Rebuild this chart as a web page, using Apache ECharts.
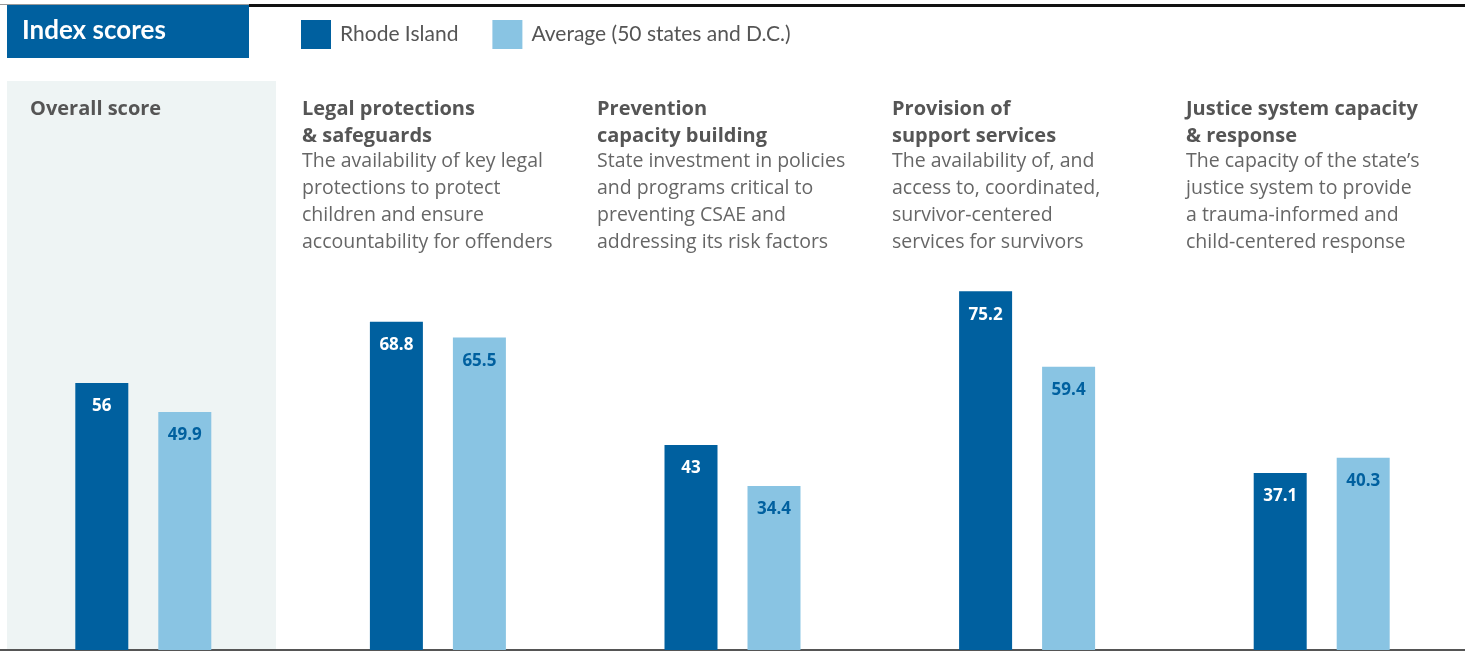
<!DOCTYPE html>
<html>
<head>
<meta charset="utf-8">
<script src="https://cdn.jsdelivr.net/npm/echarts@6/dist/echarts.min.js"></script>
<style>
    html, body { margin: 0; padding: 0; background: #fff; }
    #chart { width: 1465px; height: 652px; }
</style>
</head>
<body>
<div id="chart"></div>
<script>
/*---------------------------------------- data ----------------------------------------*/
var categories = ['Overall score', 'Legal protections', 'Prevention', 'Provision', 'Justice system'];
var rhodeIsland = [56, 68.8, 43, 75.2, 37.1];
var average = [49.9, 65.5, 34.4, 59.4, 40.3];
var seriesNames = ['Rhode Island', 'Average (50 states and D.C.)'];

var headings = [
    ['Overall score'],
    ['Legal protections', '& safeguards'],
    ['Prevention', 'capacity building'],
    ['Provision of', 'support services'],
    ['Justice system capacity', '& response']
];
var descriptions = [
    [],
    ['The availability of key legal', 'protections to protect', 'children and ensure', 'accountability for offenders'],
    ['State investment in policies', 'and programs critical to', 'preventing CSAE and', 'addressing its risk factors'],
    ['The availability of, and', 'access to, coordinated,', 'survivor-centered', 'services for survivors'],
    ['The capacity of the state\u2019s', 'justice system to provide', 'a trauma-informed and', 'child-centered response']
];

var darkBlue = '#00609f';
var lightBlue = '#89c4e3';
var textGray = '#555555';
var descGray = '#666666';
var bodyFont = '"Open Sans", "Noto Sans", sans-serif';
var headFont = 'Lato, "Noto Sans", sans-serif';

var chart = echarts.init(document.getElementById('chart'));

/**
 * 生成分类标题文字
 */
function buildTexts() {
    var items = [];
    var textLefts = [30, 302, 597, 892, 1186];
    for (var i = 0; i < categories.length; i++) {
        var y = 109;
        for (var j = 0; j < headings[i].length; j++) {
            items.push({
                type: 'text', x: textLefts[i], y: y,
                style: { text: headings[i][j], fill: textGray, font: 'bold 20px ' + bodyFont, verticalAlign: 'middle' }
            });
            y += 27;
        }
        y -= 2;
        for (var k = 0; k < descriptions[i].length; k++) {
            items.push({
                type: 'text', x: textLefts[i], y: y,
                style: { text: descriptions[i][k], fill: descGray, font: '19.5px ' + bodyFont, verticalAlign: 'middle' }
            });
            y += 27;
        }
    }
    return items;
}

var graphics = [
    { type: 'rect', z: -10, shape: { x: 7, y: 81, width: 269, height: 569 }, style: { fill: '#eef4f4' } },
    { type: 'rect', shape: { x: 0, y: 4, width: 249, height: 1 }, style: { fill: '#999999' } },
    { type: 'rect', shape: { x: 249, y: 4, width: 1216, height: 3 }, style: { fill: '#111111' } },
    { type: 'rect', shape: { x: 7, y: 5, width: 242, height: 53 }, style: { fill: darkBlue } },
    {
        type: 'text', x: 22, y: 31,
        style: { text: 'Index scores', fill: '#ffffff', font: 'bold 26px ' + headFont, verticalAlign: 'middle' }
    }
].concat(buildTexts());

var option = {
    animation: false,
    backgroundColor: '#ffffff',
    color: [darkBlue, lightBlue],
    legend: {
        left: 301,
        top: 20,
        padding: 0,
        itemWidth: 30,
        itemHeight: 29,
        itemGap: 34,
        icon: 'rect',
        textStyle: { color: textGray, fontSize: 21, fontFamily: headFont, padding: [0, 0, 0, 4] },
        data: seriesNames
    },
    grid: {
        left: -4,
        right: -4,
        top: 173,
        bottom: 2,
        outerBoundsMode: 'none',
        containLabel: false
    },
    xAxis: {
        type: 'category',
        data: categories,
        axisLine: { show: true, lineStyle: { color: '#555555', width: 2 } },
        axisTick: { show: false },
        axisLabel: { show: false }
    },
    yAxis: {
        type: 'value',
        min: 0,
        max: 100,
        show: false,
        splitLine: { show: false }
    },
    graphic: graphics,
    series: [
        {
            name: seriesNames[0],
            type: 'bar',
            data: rhodeIsland,
            barWidth: 53,
            barGap: '56.6%',
            label: {
                show: true, position: 'insideTop', distance: 15,
                color: '#ffffff', fontWeight: 'bold', fontSize: 17, fontFamily: bodyFont
            }
        },
        {
            name: seriesNames[1],
            type: 'bar',
            data: average,
            barWidth: 53,
            label: {
                show: true, position: 'insideTop', distance: 15,
                color: darkBlue, fontWeight: 'bold', fontSize: 17, fontFamily: bodyFont
            }
        }
    ]
};
chart.setOption(option, true);
</script>
</body>
</html>
